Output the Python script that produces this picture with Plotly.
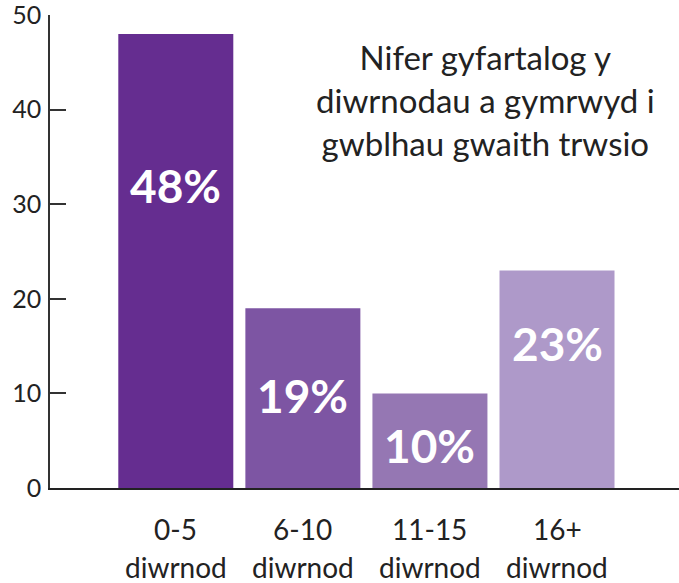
import plotly.graph_objects as go

categories = ["0-5", "6-10", "11-15", "16+"]
unit = "diwrnod"
values = [48, 19, 10, 23]
labels = ["48%", "19%", "10%", "23%"]
colors = ["#652D90", "#7D55A3", "#9577B3", "#AE99C9"]
label_y = [32, 9.8, 4.5, 15.3]
y_ticks = [0, 10, 20, 30, 40, 50]
title_text = "Nifer gyfartalog y<br>diwrnodau a gymrwyd i<br>gwblhau gwaith trwsio"

FONT = "Lato"
L, R, T, B = 50, 679, 15, 488
W, H = R - L, B - T

fig = go.Figure()
fig.add_trace(go.Bar(
    x=list(range(len(categories))), y=values,
    marker=dict(color=colors, line=dict(width=0)),
    width=0.905, hoverinfo="skip",
))

for i, (lab, ly) in enumerate(zip(labels, label_y)):
    fig.add_annotation(x=i, y=ly, text=f"<b>{lab}</b>", showarrow=False,
                       font=dict(family=FONT, size=46, color="white"),
                       xanchor="center", yanchor="middle")

for i, cat in enumerate(categories):
    fig.add_annotation(x=i, y=(B - 529) / H, xref="x", yref="paper", text=cat,
                       showarrow=False, font=dict(family=FONT, size=28, color="#222222"),
                       xanchor="center", yanchor="middle")
    fig.add_annotation(x=i, y=(B - 567) / H, xref="x", yref="paper", text=unit,
                       showarrow=False, font=dict(family=FONT, size=28, color="#222222"),
                       xanchor="center", yanchor="middle", borderpad=0)

fig.add_annotation(x=(485 - L) / W, y=(B - 100) / H, xref="paper", yref="paper",
                   text=title_text, showarrow=False,
                   font=dict(family=FONT, size=33, color="#222222"),
                   align="center", xanchor="center", yanchor="middle")

fig.update_layout(
    width=679, height=583,
    margin=dict(l=L, r=679 - R, t=T, b=583 - B, autoexpand=False),
    plot_bgcolor="white", paper_bgcolor="white",
    showlegend=False,
    font=dict(family=FONT, color="#222222"),
    xaxis=dict(
        range=[-0.99, 3.96],
        tickvals=list(range(len(categories))), showticklabels=False,
        showline=True, linecolor="#222222", linewidth=2,
        showgrid=False, zeroline=False, ticks="", automargin=False,
    ),
    yaxis=dict(
        range=[0, 50],
        tickvals=y_ticks,
        tickfont=dict(size=25, color="#222222"),
        showline=True, linecolor="#333333", linewidth=1.5,
        showgrid=False, zeroline=False, automargin=False,
        ticks="inside", ticklen=16, tickcolor="#333333", tickwidth=1.5,
        ticklabelstandoff=2, ticklabeloverflow="allow",
    ),
)

fig.write_html("out.html", config={"displayModeBar": False},
               post_script="document.body.style.margin='0';")
